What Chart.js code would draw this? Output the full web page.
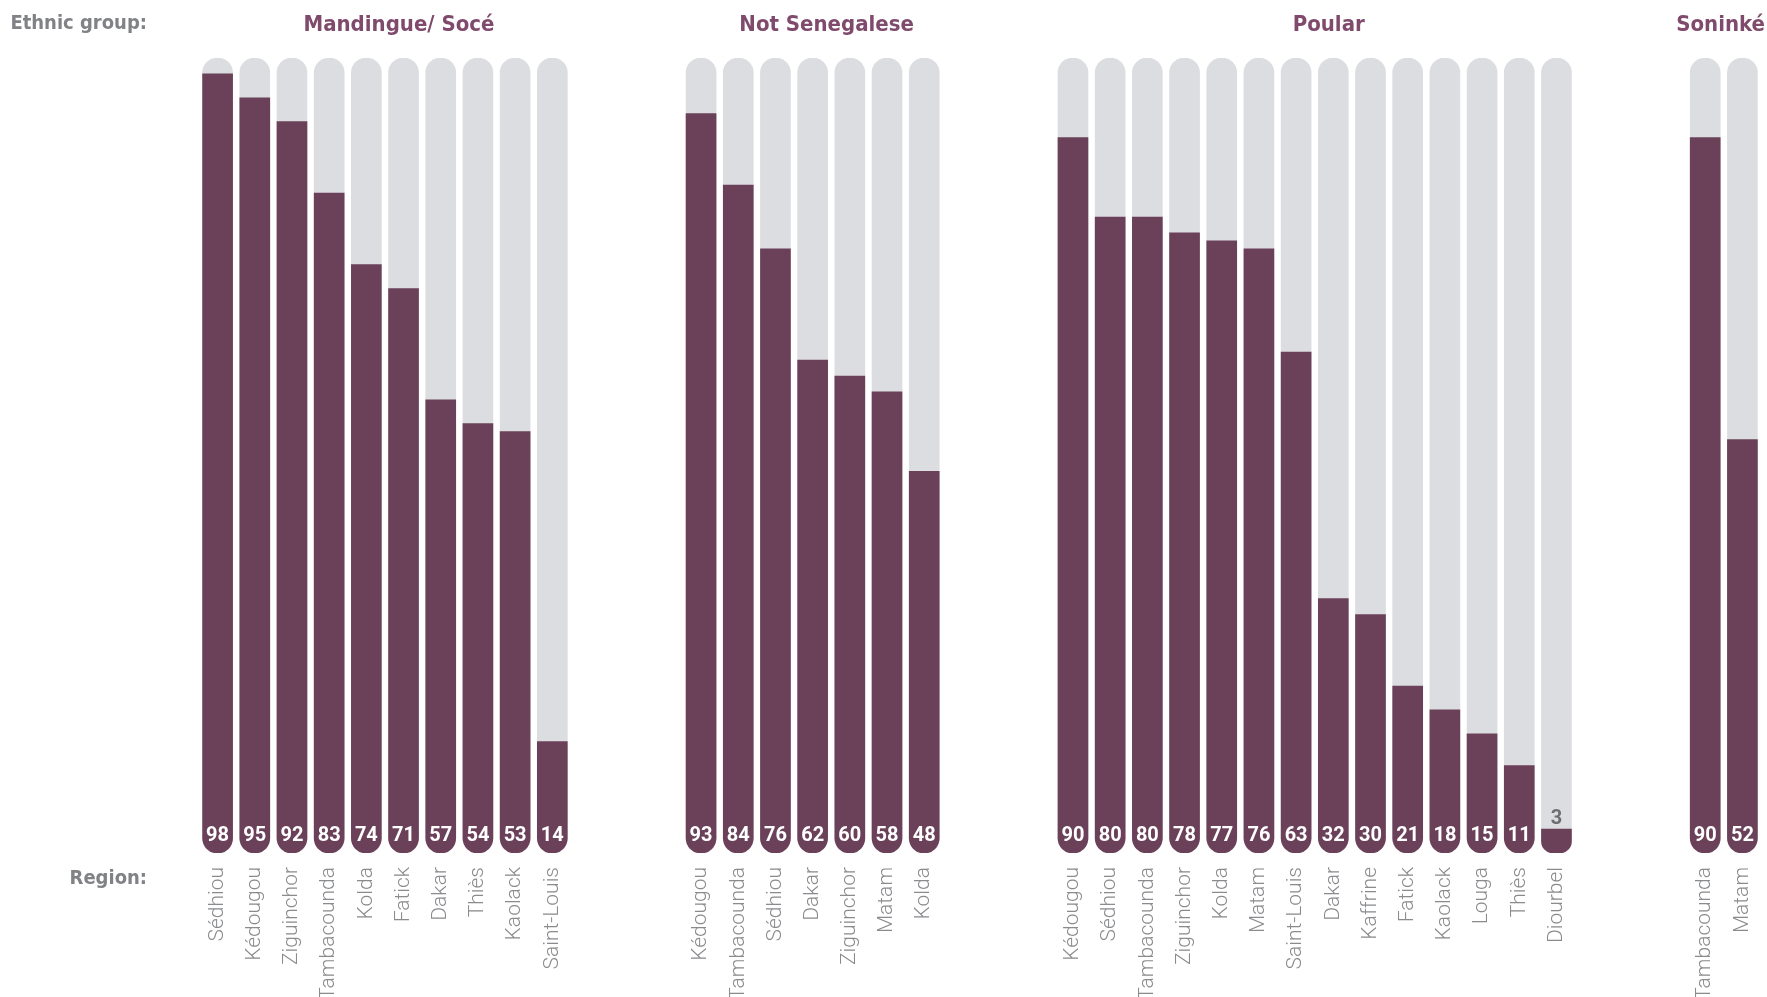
<!DOCTYPE html>
<html>
<head>
<meta charset="utf-8">
<script src="https://cdn.jsdelivr.net/npm/chart.js@4.4.1/dist/chart.umd.min.js"></script>
<style>
  html, body { margin: 0; padding: 0; background: #ffffff; overflow: hidden; }
  #wrap { position: relative; width: 1767px; height: 997px; }
</style>
</head>
<body>
<div id="wrap"><canvas id="grafico"></canvas></div>
<script>
// Datos por grupo étnico (porcentajes)
const grupos = ['Mandingue/ Socé', 'Not Senegalese', 'Poular', 'Soninké'];

const regionesMandingue = ['Sédhiou', 'Kédougou', 'Ziguinchor', 'Tambacounda', 'Kolda', 'Fatick', 'Dakar', 'Thiès', 'Kaolack', 'Saint-Louis'];
const valoresMandingue = [98, 95, 92, 83, 74, 71, 57, 54, 53, 14];

const regionesNoSenegal = ['Kédougou', 'Tambacounda', 'Sédhiou', 'Dakar', 'Ziguinchor', 'Matam', 'Kolda'];
const valoresNoSenegal = [93, 84, 76, 62, 60, 58, 48];

const regionesPoular = ['Kédougou', 'Sédhiou', 'Tambacounda', 'Ziguinchor', 'Kolda', 'Matam', 'Saint-Louis', 'Dakar', 'Kaffrine', 'Fatick', 'Kaolack', 'Louga', 'Thiès', 'Diourbel'];
const valoresPoular = [90, 80, 80, 78, 77, 76, 63, 32, 30, 21, 18, 15, 11, 3];

const regionesSoninke = ['Tambacounda', 'Matam'];
const valoresSoninke = [90, 52];

const regionesPorGrupo = [regionesMandingue, regionesNoSenegal, regionesPoular, regionesSoninke];
const valoresPorGrupo = [valoresMandingue, valoresNoSenegal, valoresPoular, valoresSoninke];
const huecos = 3;  // categorías vacías entre grupos

// Colores
const morado = '#6b4159';
const gris = '#dcdde0';
const moradoTitulo = '#7f4a6c';
const grisTexto = '#818285';

// Construye etiquetas y series con huecos entre grupos
const etiquetas = [];
const valores = [];
const fondo = [];
const rangosGrupo = [];
regionesPorGrupo.forEach((regiones, g) => {
    if (g > 0) {
        for (let i = 0; i < huecos; i++) { etiquetas.push(''); valores.push(null); fondo.push(null); }
    }
    const inicio = etiquetas.length;
    regiones.forEach((r, i) => {
        etiquetas.push(r);
        valores.push(valoresPorGrupo[g][i]);
        fondo.push(100);
    });
    rangosGrupo.push([inicio, etiquetas.length - 1]);
});

const fuenteCondensada = '"Liberation Sans Narrow", "DejaVu Sans Condensed", Roboto, sans-serif';

// Plugin que dibuja títulos de grupo, rótulos laterales y valores
const textosExtra = {
    id: 'textosExtra',
    afterDatasetsDraw(chart) {
        const ctx = chart.ctx;
        const x = chart.scales.x;
        ctx.save();

        // Rótulos de la izquierda
        ctx.fillStyle = grisTexto;
        ctx.font = 'bold 20px ' + fuenteCondensada;
        ctx.textAlign = 'right';
        ctx.textBaseline = 'middle';
        ctx.fillText('Ethnic group:', 147, 24);
        ctx.fillText('Region:', 147, 879);

        // Títulos de grupo (algo desplazados a la derecha, como en el original)
        ctx.fillStyle = moradoTitulo;
        ctx.font = 'bold 22px ' + fuenteCondensada;
        ctx.textAlign = 'center';
        grupos.forEach((nombre, g) => {
            const [a, b] = rangosGrupo[g];
            let cx = (x.getPixelForValue(a) + x.getPixelForValue(b)) / 2 + 14;
            const w = ctx.measureText(nombre).width;
            cx = Math.min(cx, chart.width - 2 - w / 2);
            ctx.fillText(nombre, cx, 25);
        });

        // Valores en la base de cada barra
        const meta = chart.getDatasetMeta(1);
        ctx.font = 'bold 20px Roboto, sans-serif';
        meta.data.forEach((bar, i) => {
            const v = valores[i];
            if (v === null) return;
            if (v < 8) {
                ctx.fillStyle = '#6d6e71';
                ctx.fillText(String(v), bar.x, bar.y - 10);
            } else {
                ctx.fillStyle = '#ffffff';
                ctx.fillText(String(v), bar.x, chart.chartArea.bottom - 17);
            }
        });
        ctx.restore();
    }
};

const ctx = document.getElementById('grafico').getContext('2d');
window.chart = new Chart(ctx, {
    type: 'bar',
    data: {
        labels: etiquetas,
        datasets: [
            {
                label: 'total',
                data: fondo,
                backgroundColor: gris,
                borderSkipped: false,
                borderRadius: 15,
                barThickness: 30,
                grouped: false,
                order: 2
            },
            {
                label: 'valor',
                data: valores,
                backgroundColor: morado,
                borderSkipped: false,
                borderRadius: { topLeft: 0, topRight: 0, bottomLeft: 15, bottomRight: 15 },
                barThickness: 30,
                grouped: false,
                order: 1
            }
        ]
    },
    options: {
        responsive: true,
        maintainAspectRatio: false,
        animation: false,
        layout: { padding: { left: 199, right: 6, top: 58, bottom: 0 } },
        plugins: {
            legend: { display: false },
            tooltip: { enabled: false }
        },
        scales: {
            x: {
                grid: { display: false, drawTicks: false },
                border: { display: false },
                ticks: {
                    autoSkip: false,
                    maxRotation: 90,
                    minRotation: 90,
                    padding: 14,
                    color: '#8a8b8e',
                    font: { family: 'Roboto', size: 21, weight: '300' }
                },
                afterFit: (escala) => {
                    escala.height = 144;
                    escala.paddingLeft = 0;   // sin margen extra para las etiquetas extremas
                    escala.paddingRight = 0;
                }
            },
            y: {
                display: false,
                min: 0,
                max: 100
            }
        }
    },
    plugins: [textosExtra]
});
</script>
</body>
</html>
